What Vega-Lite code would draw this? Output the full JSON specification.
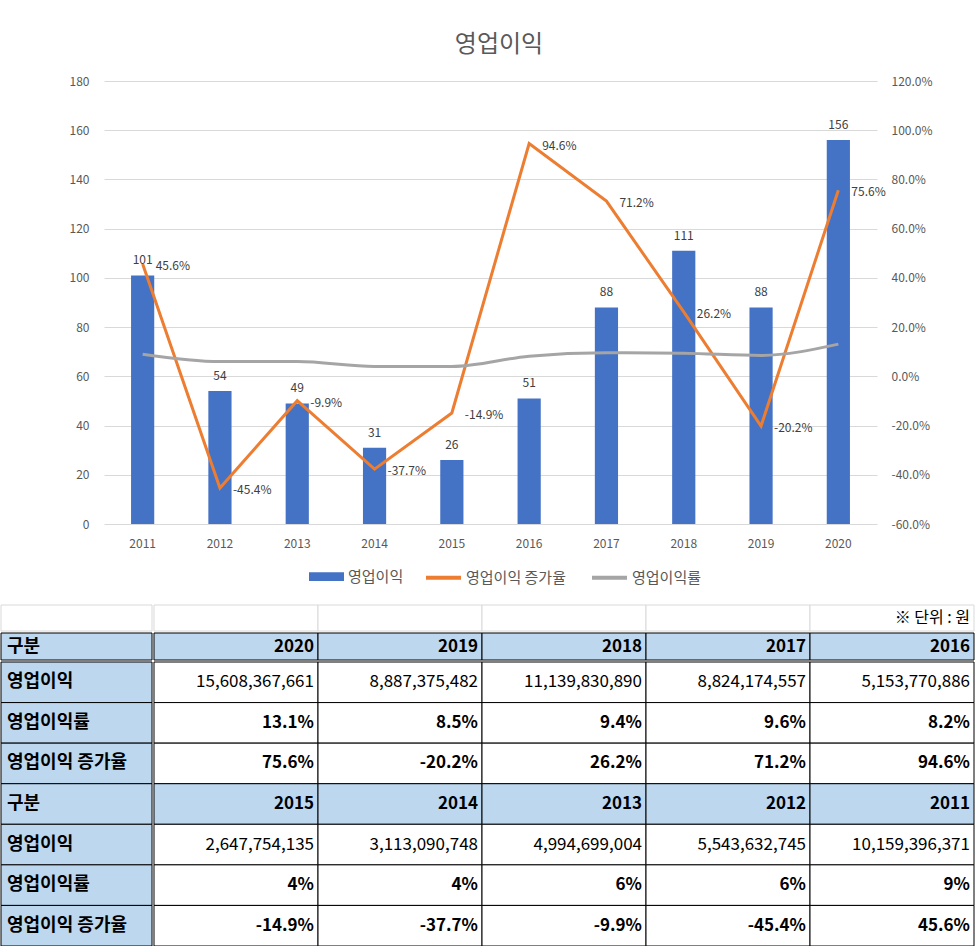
{
  "$schema": "https://vega.github.io/schema/vega-lite/v6.json",
  "padding": {"left": 0, "right": 0, "top": 33, "bottom": 0},
  "background": "white",
  "spacing": 18,
  "resolve": {"scale": {"fill": "independent", "stroke": "independent"}, "legend": {"fill": "independent", "stroke": "independent"}},
  "config": {
    "locale": {"number": {"decimal": ".", "thousands": ",", "grouping": [3], "currency": ["$", ""], "minus": "-"}},
    "view": {"stroke": null},
    "font": "Noto Sans CJK KR",
    "concat": {"spacing": 0},
    "legend": {"padding": 0}
  },
  "datasets": {
    "main": [
      {"year": "2011", "profit": 101, "growth": 0.456, "margin": 0.09},
      {"year": "2012", "profit": 54, "growth": -0.454, "margin": 0.06},
      {"year": "2013", "profit": 49, "growth": -0.099, "margin": 0.06},
      {"year": "2014", "profit": 31, "growth": -0.377, "margin": 0.04},
      {"year": "2015", "profit": 26, "growth": -0.149, "margin": 0.04},
      {"year": "2016", "profit": 51, "growth": 0.946, "margin": 0.082},
      {"year": "2017", "profit": 88, "growth": 0.712, "margin": 0.096},
      {"year": "2018", "profit": 111, "growth": 0.262, "margin": 0.094},
      {"year": "2019", "profit": 88, "growth": -0.202, "margin": 0.085},
      {"year": "2020", "profit": 156, "growth": 0.756, "margin": 0.131}
    ],
    "table": [
      {"row": "unit", "c0": "", "c1": "", "c2": "", "c3": "", "c4": "", "c5": "※ 단위 : 원"},
      {"row": "h1", "c0": "구분", "c1": "2020", "c2": "2019", "c3": "2018", "c4": "2017", "c5": "2016"},
      {"row": "a1", "c0": "영업이익", "c1": "15,608,367,661", "c2": "8,887,375,482", "c3": "11,139,830,890", "c4": "8,824,174,557", "c5": "5,153,770,886"},
      {"row": "m1", "c0": "영업이익률", "c1": "13.1%", "c2": "8.5%", "c3": "9.4%", "c4": "9.6%", "c5": "8.2%"},
      {"row": "g1", "c0": "영업이익 증가율", "c1": "75.6%", "c2": "-20.2%", "c3": "26.2%", "c4": "71.2%", "c5": "94.6%"},
      {"row": "h2", "c0": "구분", "c1": "2015", "c2": "2014", "c3": "2013", "c4": "2012", "c5": "2011"},
      {"row": "a2", "c0": "영업이익", "c1": "2,647,754,135", "c2": "3,113,090,748", "c3": "4,994,699,004", "c4": "5,543,632,745", "c5": "10,159,396,371"},
      {"row": "m2", "c0": "영업이익률", "c1": "4%", "c2": "4%", "c3": "6%", "c4": "6%", "c5": "9%"},
      {"row": "g2", "c0": "영업이익 증가율", "c1": "-14.9%", "c2": "-37.7%", "c3": "-9.9%", "c4": "-45.4%", "c5": "45.6%"}
    ]
  },
  "vconcat": [
    {
      "width": 976,
      "height": 443,
      "title": {"text": "영업이익", "fontSize": 24, "fontWeight": "normal", "color": "#595959", "offset": 18, "anchor": "middle", "dx": 10},
      "data": {"name": "main"},
      "encoding": {
        "x": {"field": "year", "type": "ordinal", "scale": {"range": [103, 876], "paddingInner": 0.7, "paddingOuter": 0.35},
          "axis": {"title": null, "labelAngle": 0, "ticks": false, "domain": false, "labelPadding": 14, "labelFontSize": 12, "labelColor": "#595959"}}
      },
      "layer": [
        {
          "encoding": {
            "y": {"field": "profit", "type": "quantitative", "scale": {"domain": [0, 180], "nice": false},
              "axis": {"title": null, "orient": "left", "offset": -103, "minExtent": 0, "values": [0, 20, 40, 60, 80, 100, 120, 140, 160, 180], "grid": true, "gridColor": "#D9D9D9", "domain": false, "ticks": false, "labelPadding": 15, "labelFontSize": 12, "labelColor": "#595959"}}
          },
          "layer": [
            {
              "mark": {"type": "bar"},
              "encoding": {
                "fill": {"datum": "영업이익", "type": "nominal", "scale": {"domain": ["영업이익"], "range": ["#4472C4"]},
                  "legend": {"title": null, "orient": "none", "legendX": 307, "legendY": 477, "direction": "horizontal", "symbolType": "M-1,-0.25H1V0.25H-1Z", "symbolSize": 1225, "labelFontSize": 15, "labelColor": "#595959", "labelOffset": 3}}
              }
            },
            {
              "mark": {"type": "text", "fontSize": 12, "color": "#404040", "baseline": "alphabetic", "dy": -11},
              "encoding": {"text": {"field": "profit", "type": "quantitative"}}
            }
          ]
        },
        {
          "encoding": {
            "y": {"field": "growth", "type": "quantitative", "scale": {"domain": [-0.6, 1.2], "nice": false},
              "axis": {"title": null, "orient": "right", "offset": -100, "minExtent": 0, "values": [-0.6, -0.4, -0.2, 0, 0.2, 0.4, 0.6, 0.8, 1.0, 1.2], "format": ".1%", "grid": false, "domain": false, "ticks": false, "labelPadding": 14, "labelFontSize": 12, "labelColor": "#595959"}}
          },
          "layer": [
            {
              "mark": {"type": "line", "strokeWidth": 3},
              "encoding": {
                "stroke": {"datum": "영업이익 증가율", "type": "nominal", "scale": {"domain": ["영업이익 증가율", "영업이익률"], "range": ["#ED7D31", "#A5A5A5"]},
                  "legend": {"title": null, "orient": "none", "legendX": 423, "legendY": 477, "direction": "horizontal", "symbolType": "stroke", "symbolSize": 1225, "symbolStrokeWidth": 4, "columnPadding": 18, "labelFontSize": 15, "labelColor": "#595959", "labelOffset": 3}}
              }
            },
            {
              "mark": {"type": "line", "strokeWidth": 3, "interpolate": "monotone"},
              "encoding": {
                "y": {"field": "margin", "type": "quantitative"},
                "stroke": {"datum": "영업이익률", "type": "nominal", "scale": {"domain": ["영업이익 증가율", "영업이익률"], "range": ["#ED7D31", "#A5A5A5"]}}
              }
            },
            {
              "mark": {"type": "text", "fontSize": 12, "color": "#404040", "align": "left", "baseline": "middle", "dx": 13, "dy": 2},
              "encoding": {"text": {"field": "growth", "type": "quantitative", "format": ".1%"}}
            }
          ]
        }
      ],
      "resolve": {"scale": {"y": "independent"}}
    },
    {
      "spacing": 0,
      "vconcat": [
        {
          "spacing": 0,
          "hconcat": [
            {
              "width": 151, "height": 26,
              "data": {"name": "table"},
              "transform": [{"filter": "datum.row === 'unit'"}, {"fold": ["c0"], "as": ["col", "text"]}],
              "mark": {"type": "rect", "stroke": "#D9D9D9", "strokeWidth": 1, "fill": "white"},
              "encoding": {
                "x": {"field": "col", "type": "nominal", "scale": {"paddingInner": 0, "paddingOuter": 0}, "axis": null},
                "y": {"field": "row", "type": "nominal", "scale": {"paddingInner": 0, "paddingOuter": 0}, "axis": null}
              }
            },
            {
              "width": 820, "height": 26,
              "data": {"name": "table"},
              "transform": [{"filter": "datum.row === 'unit'"}, {"fold": ["c1", "c2", "c3", "c4", "c5"], "as": ["col", "text"]}],
              "encoding": {
                "x": {"field": "col", "type": "nominal", "scale": {"paddingInner": 0, "paddingOuter": 0}, "axis": null},
                "y": {"field": "row", "type": "nominal", "scale": {"paddingInner": 0, "paddingOuter": 0}, "axis": null}
              },
              "layer": [
                {"mark": {"type": "rect", "stroke": "#D9D9D9", "strokeWidth": 1, "fill": "white"}},
                {
                  "mark": {"type": "text", "align": "right", "baseline": "middle", "dx": -4, "fontSize": 16, "color": "black"},
                  "encoding": {"x": {"field": "col", "type": "nominal", "bandPosition": 1, "axis": null}, "text": {"field": "text"}}
                }
              ]
            }
          ]
        },
        {
          "spacing": 0,
          "hconcat": [
            {
              "width": 151, "height": 27,
              "data": {"name": "table"},
              "transform": [{"filter": "datum.row === 'h1'"}, {"fold": ["c0"], "as": ["col", "text"]}],
              "encoding": {
                "x": {"field": "col", "type": "nominal", "scale": {"paddingInner": 0, "paddingOuter": 0}, "axis": null},
                "y": {"field": "row", "type": "nominal", "scale": {"paddingInner": 0, "paddingOuter": 0}, "axis": null}
              },
              "layer": [
                {"mark": {"type": "rect", "stroke": "black", "strokeWidth": 1, "fill": "#BDD7EE"}},
                {
                  "mark": {"type": "text", "align": "left", "baseline": "middle", "dx": 6, "fontSize": 18, "fontWeight": "bold", "color": "black"},
                  "encoding": {"x": {"field": "col", "type": "nominal", "bandPosition": 0, "axis": null}, "text": {"field": "text"}}
                }
              ]
            },
            {
              "width": 820, "height": 27,
              "data": {"name": "table"},
              "transform": [{"filter": "datum.row === 'h1'"}, {"fold": ["c1", "c2", "c3", "c4", "c5"], "as": ["col", "text"]}],
              "encoding": {
                "x": {"field": "col", "type": "nominal", "scale": {"paddingInner": 0, "paddingOuter": 0}, "axis": null},
                "y": {"field": "row", "type": "nominal", "scale": {"paddingInner": 0, "paddingOuter": 0}, "axis": null}
              },
              "layer": [
                {"mark": {"type": "rect", "stroke": "black", "strokeWidth": 1, "fill": "#BDD7EE"}},
                {
                  "mark": {"type": "text", "align": "right", "baseline": "middle", "dx": -4, "fontSize": 17, "fontWeight": "bold", "color": "black"},
                  "encoding": {"x": {"field": "col", "type": "nominal", "bandPosition": 1, "axis": null}, "text": {"field": "text"}}
                }
              ]
            }
          ]
        },
        {
          "spacing": 0,
          "hconcat": [
            {
              "width": 151, "height": 284,
              "data": {"name": "table"},
              "transform": [{"filter": {"field": "row", "oneOf": ["a1", "m1", "g1", "h2", "a2", "m2", "g2"]}}, {"fold": ["c0"], "as": ["col", "text"]}],
              "encoding": {
                "x": {"field": "col", "type": "nominal", "scale": {"paddingInner": 0, "paddingOuter": 0}, "axis": null},
                "y": {"field": "row", "type": "nominal", "sort": ["a1", "m1", "g1", "h2", "a2", "m2", "g2"], "scale": {"paddingInner": 0, "paddingOuter": 0}, "axis": null}
              },
              "layer": [
                {"mark": {"type": "rect", "stroke": "black", "strokeWidth": 1, "fill": "#BDD7EE"}},
                {
                  "mark": {"type": "text", "align": "left", "baseline": "middle", "dx": 6, "fontSize": 18, "fontWeight": "bold", "color": "black"},
                  "encoding": {"x": {"field": "col", "type": "nominal", "bandPosition": 0, "axis": null}, "text": {"field": "text"}}
                }
              ]
            },
            {
              "width": 820, "height": 284,
              "data": {"name": "table"},
              "transform": [{"filter": {"field": "row", "oneOf": ["a1", "m1", "g1", "h2", "a2", "m2", "g2"]}}, {"fold": ["c1", "c2", "c3", "c4", "c5"], "as": ["col", "text"]}],
              "encoding": {
                "x": {"field": "col", "type": "nominal", "scale": {"paddingInner": 0, "paddingOuter": 0}, "axis": null},
                "y": {"field": "row", "type": "nominal", "sort": ["a1", "m1", "g1", "h2", "a2", "m2", "g2"], "scale": {"paddingInner": 0, "paddingOuter": 0}, "axis": null}
              },
              "layer": [
                {
                  "mark": {"type": "rect", "stroke": "black", "strokeWidth": 1},
                  "encoding": {"fill": {"condition": {"test": "datum.row === 'h2'", "value": "#BDD7EE"}, "value": "white"}}
                },
                {
                  "transform": [{"filter": {"field": "row", "oneOf": ["a1", "a2"]}}],
                  "mark": {"type": "text", "align": "right", "baseline": "middle", "dx": -4, "fontSize": 17, "fontWeight": "normal", "color": "black"},
                  "encoding": {"x": {"field": "col", "type": "nominal", "bandPosition": 1, "axis": null}, "text": {"field": "text"}}
                },
                {
                  "transform": [{"filter": {"field": "row", "oneOf": ["m1", "g1", "h2", "m2", "g2"]}}],
                  "mark": {"type": "text", "align": "right", "baseline": "middle", "dx": -4, "fontSize": 17, "fontWeight": "bold", "color": "black"},
                  "encoding": {"x": {"field": "col", "type": "nominal", "bandPosition": 1, "axis": null}, "text": {"field": "text"}}
                }
              ]
            }
          ]
        }
      ]
    }
  ]
}
